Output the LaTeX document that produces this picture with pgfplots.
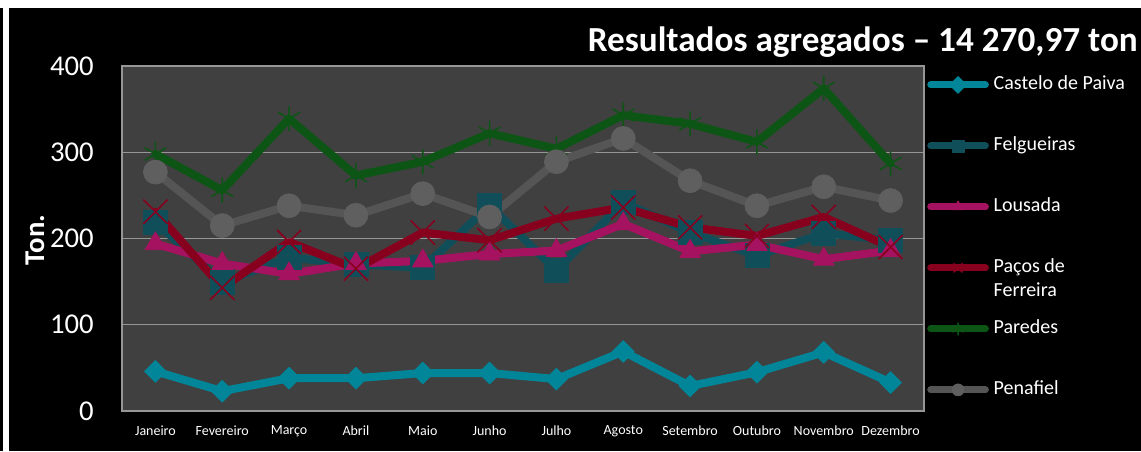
\documentclass[border=0pt]{standalone}
\usepackage{pgfplots}
\pgfplotsset{compat=1.18}
\usepackage{fontspec}
\setmainfont{Carlito}
\definecolor{castelo}{RGB}{0,133,153}
\definecolor{felg}{RGB}{16,78,90}
\definecolor{lousada}{RGB}{165,18,95}
\definecolor{pacos}{RGB}{135,0,30}
\definecolor{paredes}{RGB}{12,85,20}
\definecolor{penafiel}{RGB}{85,85,85}
\definecolor{penafielm}{RGB}{95,95,95}
\definecolor{plotbg}{RGB}{64,64,64}
\definecolor{gridc}{RGB}{150,150,150}
\definecolor{framec}{RGB}{150,150,150}
\begin{document}
\begin{tikzpicture}
\fill[white] (0pt,0pt) rectangle (855.75pt,338.25pt);
\fill[black] (6.75pt,0pt) rectangle (855.75pt,332.25pt);
\fill[black] (0pt,0pt) rectangle (2.25pt,332.25pt);
\begin{axis}[
  at={(91.5pt,30pt)}, anchor=south west,
  scale only axis, width=601.5pt, height=258.75pt,
  xmin=-0.5, xmax=11.5, ymin=0, ymax=400,
  xtick={0,...,11},
  xticklabels={Janeiro,Fevereiro,Março,Abril,Maio,Junho,Julho,Agosto,Setembro,Outubro,Novembro,Dezembro},
  ytick={0,100,200,300,400},
  major tick length=0pt,
  ymajorgrids, grid style={draw=gridc, line width=1.1pt},
  axis background/.style={fill=plotbg},
  axis line style={draw=framec, line width=0.8pt},
  tick label style={text=white},
  /pgf/number format/assume math mode=true,
  yticklabel style={font=\fontsize{21.5}{24}\selectfont, inner sep=0pt, xshift=-21pt},
  xticklabel style={font=\fontsize{10.5}{12}\selectfont, inner sep=0pt, yshift=-11pt},
  ylabel={\textbf{Ton.}},
  ylabel style={at={(axis description cs:-0.1085,0.4957)}, anchor=center, text=white, font=\fontsize{21.5}{24}\selectfont},
  every axis title shift=0pt,
  title={\textbf{Resultados agregados – 14 270,97 ton}},
  title style={at={(axis description cs:1.2668,1.0406)}, anchor=base east, text=white, font=\fontsize{26.4}{30}\selectfont, inner sep=0pt},
  legend cell align=left,
  legend style={at={(axis description cs:1.0037,0.975)}, anchor=north west, draw=none, fill=none, inner sep=0pt,
    text=white, font=\fontsize{15}{18}\selectfont, row sep=30.75pt, column sep=3.6pt,
    nodes={text height=11pt, text depth=4pt, inner sep=0pt}},
  legend image code/.code={
    \draw[#1, mark=none, line cap=round, line width=5.25pt] (0pt,0pt) -- (41pt,0pt);
    \draw[#1, mark size=4.5pt] plot coordinates {(20.5pt,0pt)};
  },
  every axis plot/.append style={line width=6pt, line join=round, line cap=round},
]
\addplot[color=castelo, mark=square*, mark size=5.8pt, mark options={solid, rotate=45, fill=castelo, draw=castelo, line width=0.5pt}]
  coordinates {(0,46) (1,23) (2,38) (3,38) (4,44) (5,44) (6,37) (7,69) (8,29) (9,45) (10,68) (11,33)};
\addlegendentry{Castelo de Paiva}
\addplot[color=felg, mark=square*, mark size=9pt, mark options={solid, fill=felg, draw=felg, line width=0.5pt}]
  coordinates {(0,219) (1,149) (2,178) (3,170) (4,166) (5,238) (6,163) (7,242) (8,207) (9,180) (10,206) (11,198)};
\addlegendentry{Felgueiras}
\addplot[color=lousada, mark=triangle*, mark size=9pt, mark options={solid, fill=lousada, draw=lousada, line width=0.5pt}]
  coordinates {(0,194) (1,171) (2,159) (3,171) (4,174) (5,182) (6,186) (7,217) (8,185) (9,193) (10,176) (11,186)};
\addlegendentry{Lousada}
\addplot[color=pacos, mark=x, mark size=12.5pt, mark options={solid, draw=pacos, line width=1.2pt}]
  coordinates {(0,231) (1,143) (2,196) (3,165) (4,207) (5,198) (6,223) (7,236) (8,213) (9,203) (10,225) (11,190)};
\addlegendentry{\smash{\parbox[t]{80pt}{\fontsize{15}{18}\selectfont Paços de\\Ferreira}}}
\addplot[color=paredes, mark=asterisk, mark size=9pt, mark options={solid, draw=paredes, line width=1.2pt}]
  coordinates {(0,298) (1,256) (2,339) (3,273) (4,289) (5,322) (6,304) (7,343) (8,333) (9,312) (10,374) (11,287)};
\addlegendentry{Paredes}
\addplot[color=penafiel, mark=*, mark size=9pt, mark options={solid, fill=penafielm, draw=penafielm, line width=0.5pt}]
  coordinates {(0,277) (1,215) (2,238) (3,227) (4,252) (5,225) (6,289) (7,316) (8,267) (9,238) (10,260) (11,244)};
\addlegendentry{Penafiel}
\end{axis}
\end{tikzpicture}
\end{document}
